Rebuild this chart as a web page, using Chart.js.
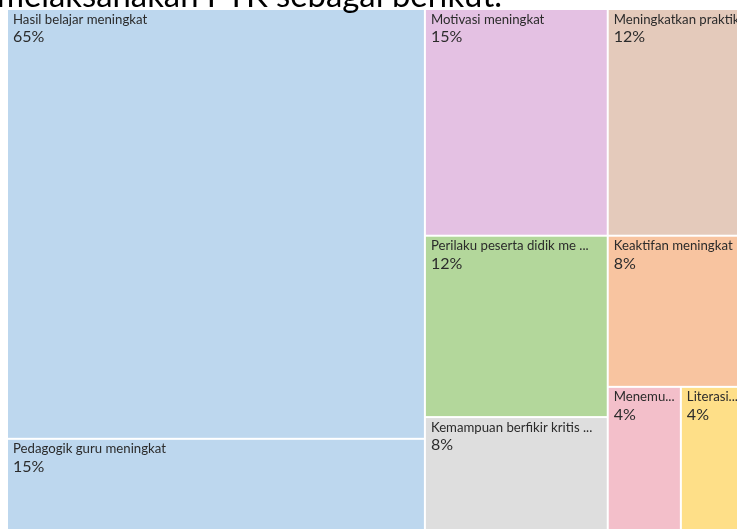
<!DOCTYPE html>
<html>
<head>
<meta charset="utf-8">
<script src="https://cdn.jsdelivr.net/npm/chart.js@4.4.1/dist/chart.umd.min.js"></script>
<style>
  html, body { margin: 0; padding: 0; background: #fff; overflow: hidden; }
  canvas { display: block; }
</style>
</head>
<body>
<canvas id="treemap" width="754" height="538" style="width:754px;height:538px"></canvas>
<script>
const pageText = 'melaksanakan PTK sebagai berikut.';

const categories = [
  'Hasil belajar meningkat',
  'Pedagogik guru meningkat',
  'Motivasi meningkat',
  'Meningkatkan praktik ...',
  'Perilaku peserta didik me ...',
  'Keaktifan meningkat',
  'Kemampuan berfikir kritis ...',
  'Menemu...',
  'Literasi...'
];
const values = [65, 15, 15, 12, 12, 8, 8, 4, 4];
const colors = ['#bdd7ee', '#bdd7ee', '#e4c1e3', '#e4cabb', '#b3d79b', '#f8c4a0', '#dedede', '#f3bfca', '#fedf88'];

// how the cells nest (indices into categories); split direction alternates per level
const groups = [[0, 1], [[2, 3], [[4, 6], [5, [7, 8]]]]];

function total(node) {
  return Array.isArray(node) ? node.reduce((s, n) => s + total(n), 0) : values[node];
}

// slice and dice in data units (0..100 on both axes)
function layout(node, x0, y0, x1, y1, depth, out) {
  if (!Array.isArray(node)) {
    out.push({ i: node, x0, y0, x1, y1 });
    return out;
  }
  const sum = total(node);
  let pos = depth % 2 === 0 ? x0 : y0;
  node.forEach(child => {
    const share = total(child) / sum;
    if (depth % 2 === 0) {
      const w = (x1 - x0) * share;
      layout(child, pos, y0, pos + w, y1, depth + 1, out);
      pos += w;
    } else {
      const h = (y1 - y0) * share;
      layout(child, x0, pos, x1, pos + h, depth + 1, out);
      pos += h;
    }
  });
  return out;
}

const cells = layout(groups, 0, 0, 100, 100, 0, []);

const treemapPlugin = {
  id: 'treemap',
  afterDatasetsDraw(chart) {
    const { ctx, scales: { x, y } } = chart;
    ctx.save();
    cells.forEach(c => {
      const left = x.getPixelForValue(c.x0) + 1;
      const right = x.getPixelForValue(c.x1) - 1;
      const top = y.getPixelForValue(c.y0) + 1;
      const bottom = y.getPixelForValue(c.y1) - 1;
      ctx.fillStyle = colors[c.i];
      ctx.fillRect(left, top, right - left, bottom - top);

      ctx.save();
      ctx.beginPath();
      ctx.rect(left, top, right - left, bottom - top);
      ctx.clip();
      ctx.fillStyle = '#2b2b2b';
      ctx.textBaseline = 'alphabetic';
      ctx.font = '13.2px Lato';
      ctx.fillText(categories[c.i], left + 5, top + 13.5);
      ctx.font = '16px Lato';
      ctx.fillText(values[c.i] + '%', left + 5, top + 32);
      ctx.restore();
    });

    // line of the surrounding document, cut off at the top edge
    ctx.font = '26px Lato';
    const w = ctx.measureText(pageText).width;
    ctx.font = (26 * 505 / w).toFixed(2) + 'px Lato';
    ctx.fillStyle = '#000';
    ctx.fillText(pageText, -3, 6.5);
    ctx.restore();
  }
};

new Chart(document.getElementById('treemap'), {
  type: 'scatter',
  data: { datasets: [{ data: [], pointRadius: 0 }] },
  options: {
    responsive: false,
    animation: false,
    layout: { padding: { left: 7, top: 9, right: 0, bottom: 0 } },
    plugins: { legend: { display: false }, tooltip: { enabled: false } },
    scales: {
      x: { type: 'linear', min: 0, max: 100, display: false },
      y: { type: 'linear', min: 0, max: 100, reverse: true, display: false }
    }
  },
  plugins: [treemapPlugin]
});
</script>
</body>
</html>
